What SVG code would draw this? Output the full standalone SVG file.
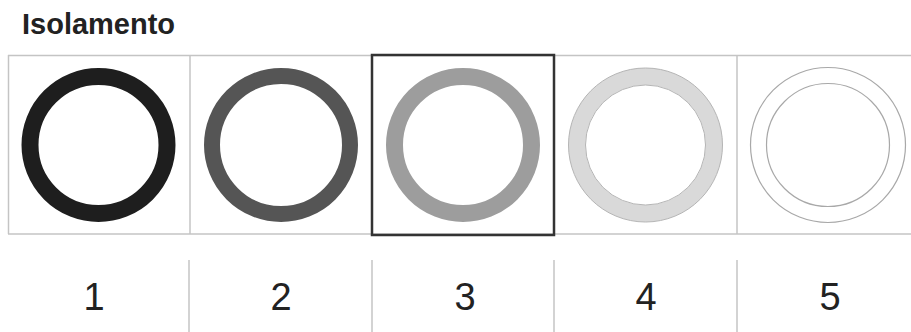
<svg xmlns="http://www.w3.org/2000/svg" width="911" height="332" viewBox="0 0 911 332">
<style>
.grid{stroke:#c4c4c4;stroke-width:1.5;fill:none}
.num{font-family:"Liberation Sans",Arial,sans-serif;font-size:38px;fill:#222;text-anchor:middle}
.title{font-family:"Liberation Sans",Arial,sans-serif;font-size:29px;font-weight:bold;fill:#222}
</style>
<rect width="911" height="332" fill="#fff"/>
<text class="title" x="22" y="34">Isolamento</text>
<g id="grid">
<line class="grid" x1="8" y1="55.5" x2="911" y2="55.5"/>
<line class="grid" x1="8" y1="234" x2="911" y2="234"/>
<line class="grid" x1="8.5" y1="55" x2="8.5" y2="234"/>
<line class="grid" x1="190" y1="55" x2="190" y2="234"/>
<line class="grid" x1="737" y1="55" x2="737" y2="234"/>
<line class="grid" x1="189" y1="260" x2="189" y2="332"/>
<line class="grid" x1="372" y1="260" x2="372" y2="332"/>
<line class="grid" x1="554" y1="260" x2="554" y2="332"/>
<line class="grid" x1="737" y1="260" x2="737" y2="332"/>
</g>
<g id="item1">
<circle cx="98.5" cy="145" r="68.5" fill="none" stroke="#1e1e1e" stroke-width="17"/>
<text class="num" x="94" y="310">1</text>
</g>
<g id="item2">
<circle cx="281" cy="145" r="69" fill="none" stroke="#555" stroke-width="16"/>
<text class="num" x="281" y="310">2</text>
</g>
<g id="item3">
<rect x="372" y="55" width="182" height="180" fill="none" stroke="#333" stroke-width="2.5"/>
<circle cx="463" cy="145" r="68.5" fill="none" stroke="#9d9d9d" stroke-width="17"/>
<text class="num" x="465" y="310">3</text>
</g>
<g id="item4">
<circle cx="645.5" cy="145" r="68.5" fill="none" stroke="#d9d9d9" stroke-width="17"/>
<circle cx="645.5" cy="145" r="77" fill="none" stroke="#b5b5b5" stroke-width="1"/>
<circle cx="645.5" cy="145" r="60" fill="none" stroke="#b5b5b5" stroke-width="1"/>
<text class="num" x="646" y="310">4</text>
</g>
<g id="item5">
<circle cx="828" cy="145" r="77.5" fill="none" stroke="#a8a8a8" stroke-width="1.2"/>
<circle cx="828" cy="145" r="61.5" fill="none" stroke="#a8a8a8" stroke-width="1.2"/>
<text class="num" x="830" y="310">5</text>
</g>
</svg>
